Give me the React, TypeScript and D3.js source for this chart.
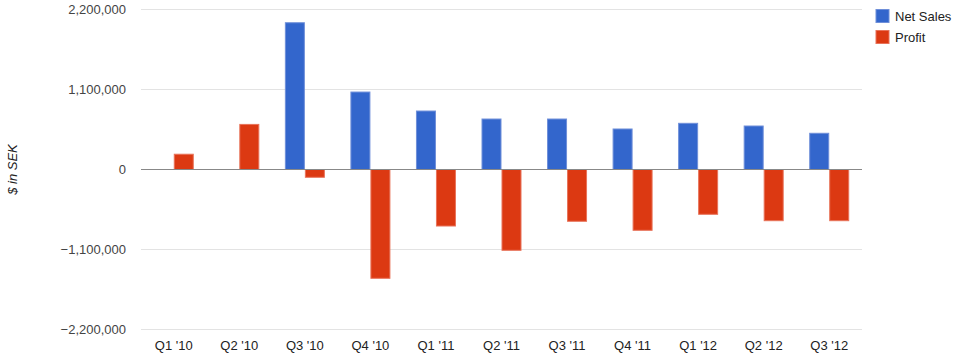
import { useEffect, useRef } from 'react';
import * as d3 from 'd3';

const quarters = ["Q1 '10", "Q2 '10", "Q3 '10", "Q4 '10", "Q1 '11", "Q2 '11", "Q3 '11", "Q4 '11", "Q1 '12", "Q2 '12", "Q3 '12"];
const netSales = [0, 0, 2018000, 1065000, 804000, 694000, 694000, 557000, 635000, 598000, 498000];
const profit = [210000, 620000, -107000, -1496000, -777000, -1111000, -712000, -836000, -616000, -704000, -704000];
const yTicks = [-2200000, -1100000, 0, 1100000, 2200000];
const seriesNames = ['Net Sales', 'Profit'];
const seriesColors = ['#3366cc', '#dc3912'];
const seriesStrokes = ['#6f8fd9', '#e8735a'];

const W = 964;
const H = 362;

export default function App() {
  const svgRef = useRef<SVGSVGElement>(null);

  useEffect(() => {
    if (!svgRef.current) return;
    const svg = d3.select(svgRef.current);
    svg.selectAll('*').remove();

    const left = 141, right = 862, top = 9.5, bottom = 329.5;
    const font = 'Arial, "Liberation Sans", sans-serif';

    const x = d3.scaleBand().domain(quarters).range([left, right]).paddingInner(0).paddingOuter(0);
    const y = d3.scaleLinear().domain([-2200000, 2200000]).range([bottom, top]);
    const barW = 20;

    // gridlines
    svg.append('g').selectAll('line').data(yTicks.filter(t => t !== 0)).join('line')
      .attr('x1', left).attr('x2', right)
      .attr('y1', d => y(d)).attr('y2', d => y(d))
      .attr('stroke', '#e3e3e3').attr('stroke-width', 1);

    // y labels
    svg.append('g').selectAll('text').data(yTicks).join('text')
      .attr('x', 126).attr('y', d => y(d) + 4.5)
      .attr('text-anchor', 'end')
      .attr('font-family', font).attr('font-size', 13).attr('fill', '#444')
      .text(d => d3.format(',')(d));

    // axis title
    svg.append('text')
      .attr('transform', `translate(17,${y(0)}) rotate(-90)`)
      .attr('text-anchor', 'middle')
      .attr('font-family', font).attr('font-size', 13).attr('font-style', 'italic').attr('fill', '#222')
      .text('$ in SEK');

    // bars
    const series = [netSales, profit];
    series.forEach((vals, si) => {
      svg.append('g').selectAll('rect').data(vals.map((v, i) => ({ v, q: quarters[i] })).filter(d => d.v !== 0)).join('rect')
        .attr('x', d => x(d.q)! + x.bandwidth() / 2 - barW + si * barW + 0.5)
        .attr('width', barW - 1)
        .attr('y', d => Math.min(y(d.v), y(0)))
        .attr('height', d => Math.abs(y(d.v) - y(0)))
        .attr('fill', seriesColors[si])
        .attr('stroke', seriesStrokes[si]).attr('stroke-width', 1);
    });

    // zero line
    svg.append('line')
      .attr('x1', left).attr('x2', right)
      .attr('y1', y(0)).attr('y2', y(0))
      .attr('stroke', '#888').attr('stroke-width', 1.2);

    // x labels
    svg.append('g').selectAll('text').data(quarters).join('text')
      .attr('x', d => x(d)! + x.bandwidth() / 2).attr('y', 350)
      .attr('text-anchor', 'middle')
      .attr('font-family', font).attr('font-size', 13).attr('fill', '#222')
      .text(d => d);

    // legend
    const lg = svg.append('g');
    seriesNames.forEach((name, i) => {
      lg.append('rect')
        .attr('x', 876).attr('y', 9.5 + i * 21).attr('width', 13).attr('height', 13)
        .attr('fill', seriesColors[i]).attr('stroke', seriesStrokes[i]).attr('stroke-width', 1);
      lg.append('text')
        .attr('x', 895).attr('y', 20.5 + i * 21)
        .attr('font-family', font).attr('font-size', 13).attr('fill', '#222')
        .text(name);
    });
  }, []);

  return (
    <div style={{ position: 'absolute', left: 0, top: 0 }}>
      <svg ref={svgRef} width={W} height={H} style={{ display: 'block', background: '#fff' }} />
    </div>
  );
}
